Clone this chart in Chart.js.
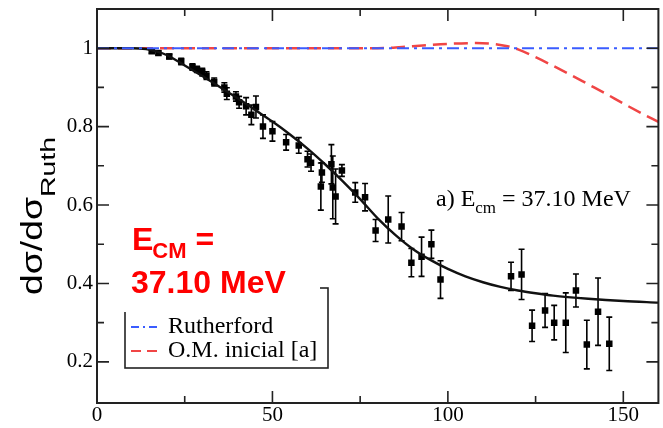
<!DOCTYPE html>
<html>
<head>
<meta charset="utf-8">
<script src="https://cdn.jsdelivr.net/npm/chart.js@4.4.0/dist/chart.umd.min.js"></script>
<style>
  html, body { margin: 0; padding: 0; background: #fff; }
  canvas { display: block; }
</style>
</head>
<body>
<canvas id="chart" width="663" height="428"></canvas>
<script>
// datos experimentales (angulo cm, cociente, error)
const angles = [15.6, 17.5, 20.6, 24.0, 27.2, 28.5, 30.0, 31.2, 33.4, 36.3, 37.0, 39.6, 40.5, 42.5, 44.0, 45.3, 47.3, 50.0,
  53.9, 57.5, 60.0, 61.0, 63.8, 64.1, 66.8, 67.2, 68.0, 69.8, 73.6, 76.4, 79.4, 83.0, 86.8, 89.6, 92.5, 95.3, 97.9,
  118.0, 121.0, 124.0, 127.7, 130.3, 133.6, 136.5, 139.6, 142.8, 146.0];
const ratios = [0.992, 0.988, 0.979, 0.966, 0.952, 0.946, 0.939, 0.930, 0.914, 0.900, 0.884, 0.877, 0.862, 0.852, 0.830, 0.850, 0.800, 0.788,
  0.760, 0.752, 0.717, 0.708, 0.647, 0.683, 0.704, 0.645, 0.622, 0.688, 0.632, 0.620, 0.535, 0.563, 0.545, 0.453, 0.468, 0.500, 0.410,
  0.418, 0.423, 0.292, 0.331, 0.300, 0.300, 0.382, 0.244, 0.328, 0.246];
const errors = [0.005, 0.005, 0.006, 0.008, 0.008, 0.008, 0.010, 0.010, 0.010, 0.012, 0.015, 0.012, 0.015, 0.022, 0.025, 0.028, 0.030, 0.025,
  0.020, 0.020, 0.020, 0.022, 0.060, 0.025, 0.050, 0.080, 0.070, 0.015, 0.025, 0.035, 0.028, 0.060, 0.036, 0.036, 0.050, 0.036, 0.048,
  0.036, 0.064, 0.040, 0.043, 0.044, 0.076, 0.042, 0.062, 0.086, 0.068];

// ajuste (linea negra)
const fitAngles = [0, 10, 14, 17, 20, 25, 30, 35, 40, 45, 50, 55, 60, 65, 70, 75, 80, 85, 90, 95, 100, 105, 110, 115, 120, 125, 130, 140, 150, 160];
const fitValues = [1, 1, 0.998, 0.992, 0.982, 0.956, 0.929, 0.901, 0.873, 0.843, 0.813, 0.780, 0.744, 0.704, 0.661, 0.615, 0.566, 0.524,
  0.488, 0.460, 0.437, 0.418, 0.403, 0.391, 0.382, 0.375, 0.369, 0.361, 0.355, 0.351];

// Rutherford y O.M. inicial
const rutherfordAngles = [0, 160];
const rutherfordValues = [1, 1];
const omAngles = [0, 80, 90, 100, 108, 113, 117, 120, 125, 130, 135, 140, 145, 150, 155, 160];
const omValues = [1, 1, 1.005, 1.011, 1.013, 1.011, 1.005, 0.997, 0.977, 0.955, 0.932, 0.908, 0.884, 0.859, 0.835, 0.812];

// ticks
const xTicks = [0, 50, 100, 150];
const xMinorTicks = [25, 75, 125];
const yTicks = [0.2, 0.4, 0.6, 0.8, 1];
const yMinorTicks = [0.3, 0.5, 0.7, 0.9];

function toXY(xs, ys) {
  return xs.map((x, i) => ({ x: x, y: ys[i] }));
}

const serif = "'Liberation Serif', 'Times New Roman', serif";
const sans = "'Liberation Sans', Arial, sans-serif";

const decorPlugin = {
  id: 'decor',
  beforeDatasetsDraw(chart) {
    // barras de error
    const ctx = chart.ctx;
    const xs = chart.scales.x, ys = chart.scales.y;
    ctx.save();
    ctx.strokeStyle = '#000';
    ctx.lineWidth = 1.6;
    for (let i = 0; i < angles.length; i++) {
      const px = xs.getPixelForValue(angles[i]);
      const lo = ys.getPixelForValue(ratios[i] - errors[i]);
      const hi = ys.getPixelForValue(ratios[i] + errors[i]);
      ctx.beginPath();
      ctx.moveTo(px, lo); ctx.lineTo(px, hi);
      ctx.moveTo(px - 3, lo); ctx.lineTo(px + 3, lo);
      ctx.moveTo(px - 3, hi); ctx.lineTo(px + 3, hi);
      ctx.stroke();
    }
    ctx.restore();
  },
  afterDraw(chart) {
    const ctx = chart.ctx;
    const a = chart.chartArea;
    const xs = chart.scales.x, ys = chart.scales.y;
    ctx.save();
    // marco
    ctx.strokeStyle = '#222';
    ctx.lineWidth = 2;
    ctx.strokeRect(a.left, a.top, a.right - a.left, a.bottom - a.top);
    // ticks hacia dentro
    ctx.lineWidth = 1.6;
    ctx.beginPath();
    const tickX = (v, len) => {
      const p = xs.getPixelForValue(v);
      ctx.moveTo(p, a.bottom); ctx.lineTo(p, a.bottom - len);
      ctx.moveTo(p, a.top); ctx.lineTo(p, a.top + len);
    };
    const tickY = (v, len) => {
      const p = ys.getPixelForValue(v);
      ctx.moveTo(a.left, p); ctx.lineTo(a.left + len, p);
      ctx.moveTo(a.right, p); ctx.lineTo(a.right - len, p);
    };
    xTicks.forEach(v => { if (v > 0) tickX(v, 12); });
    xMinorTicks.forEach(v => tickX(v, 7));
    yTicks.forEach(v => tickY(v, 12));
    yMinorTicks.forEach(v => tickY(v, 7));
    ctx.stroke();

    // titulo eje y
    ctx.save();
    ctx.translate(42, 295);
    ctx.rotate(-Math.PI / 2);
    ctx.fillStyle = '#000';
    ctx.textBaseline = 'alphabetic';
    ctx.font = '30px ' + sans;
    const main = 'dσ/dσ';
    const mw = ctx.measureText(main).width;
    ctx.save();
    ctx.scale(98 / mw, 1);
    ctx.fillText(main, 0, 0);
    ctx.restore();
    ctx.font = '20px ' + sans;
    const sw = ctx.measureText('Ruth').width;
    ctx.save();
    ctx.translate(98, 13);
    ctx.scale(60 / sw, 1);
    ctx.fillText('Ruth', 0, 0);
    ctx.restore();
    ctx.restore();

    // anotacion a)
    ctx.fillStyle = '#000';
    ctx.font = '24px ' + serif;
    let x = 436;
    ctx.fillText('a) E', x, 206);
    x += ctx.measureText('a) E').width;
    ctx.font = '17px ' + serif;
    ctx.fillText('cm', x, 213);
    x += ctx.measureText('cm').width;
    ctx.font = '24px ' + serif;
    ctx.fillText(' = 37.10 MeV', x, 206);

    // leyenda
    ctx.strokeStyle = '#222';
    ctx.lineWidth = 1.6;
    ctx.strokeRect(125, 288, 203, 80);
    ctx.lineWidth = 2;
    ctx.setLineDash([8, 4, 2, 4]);
    ctx.strokeStyle = '#3a5cff';
    ctx.beginPath(); ctx.moveTo(131, 327); ctx.lineTo(158, 327); ctx.stroke();
    ctx.setLineDash([10, 6]);
    ctx.strokeStyle = '#f04545';
    ctx.beginPath(); ctx.moveTo(131, 351); ctx.lineTo(158, 351); ctx.stroke();
    ctx.setLineDash([]);
    ctx.fillStyle = '#000';
    ctx.font = '24px ' + serif;
    ctx.fillText('Rutherford', 168, 333);
    ctx.fillText('O.M. inicial [a]', 168, 357);

    // recuadro rojo
    ctx.fillStyle = '#fff';
    ctx.fillRect(112, 214, 208, 98);
    ctx.fillStyle = '#ff0000';
    ctx.font = 'bold 32px ' + sans;
    x = 132;
    ctx.fillText('E', x, 250);
    x += ctx.measureText('E').width - 1;
    ctx.font = 'bold 22px ' + sans;
    ctx.fillText('CM', x, 258);
    x += ctx.measureText('CM').width;
    ctx.font = 'bold 32px ' + sans;
    ctx.fillText(' =', x, 250);
    ctx.fillText('37.10 MeV', 131, 293);
    ctx.restore();
  }
};

new Chart(document.getElementById('chart'), {
  type: 'scatter',
  data: {
    datasets: [
      {
        label: 'Rutherford',
        data: toXY(rutherfordAngles, rutherfordValues),
        showLine: true, borderColor: '#3a5cff', borderWidth: 2,
        borderDash: [12, 5, 3, 5], pointRadius: 0
      },
      {
        label: 'ajuste',
        data: toXY(fitAngles, fitValues),
        showLine: true, borderColor: '#111', borderWidth: 2.4,
        cubicInterpolationMode: 'monotone', pointRadius: 0
      },
      {
        label: 'O.M. inicial [a]',
        data: toXY(omAngles, omValues),
        showLine: true, borderColor: '#f04545', borderWidth: 2.5,
        borderDash: [14, 7], cubicInterpolationMode: 'monotone', pointRadius: 0
      },
      {
        label: 'datos',
        data: toXY(angles, ratios),
        showLine: false, pointStyle: 'rect', pointRadius: 4.6,
        backgroundColor: '#000', borderColor: '#000', borderWidth: 0
      }
    ]
  },
  options: {
    responsive: false,
    animation: false,
    events: [],
    layout: { padding: { top: 9, right: 3, left: 0, bottom: 0 } },
    plugins: { legend: { display: false }, tooltip: { enabled: false } },
    scales: {
      x: {
        type: 'linear', min: 0, max: 160,
        afterFit(s) { s.height = 25; s.paddingLeft = 0; s.paddingRight = 0; },
        afterBuildTicks(s) { s.ticks = xTicks.map(v => ({ value: v })); },
        grid: { display: false, drawTicks: false }, border: { display: false },
        ticks: { color: '#000', padding: 0, maxRotation: 0, font: { family: serif, size: 21 } }
      },
      y: {
        type: 'linear', min: 0.095, max: 1.1,
        afterFit(s) { s.width = 97; s.paddingTop = 0; s.paddingBottom = 0; },
        afterBuildTicks(s) { s.ticks = yTicks.map(v => ({ value: v })); },
        grid: { display: false, drawTicks: false }, border: { display: false },
        ticks: { color: '#000', padding: 4, font: { family: serif, size: 21 }, callback: v => String(v) }
      }
    }
  },
  plugins: [decorPlugin]
});
</script>
</body>
</html>
